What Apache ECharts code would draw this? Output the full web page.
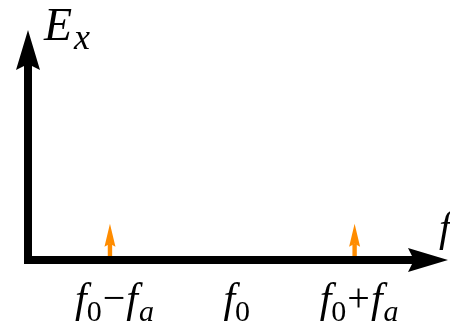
<!DOCTYPE html>
<html>
<head>
<meta charset="utf-8">
<script src="https://cdn.jsdelivr.net/npm/echarts@6/dist/echarts.min.js"></script>
<style>
  html, body { margin: 0; padding: 0; background: #fff; }
  #chart { width: 450px; height: 324px; }
</style>
</head>
<body>
<div id="chart"></div>
<script>
// Spectral lines of an amplitude-modulated field: carrier f0, sidebands f0 ± fa.
// Frequencies in units of fa (carrier at 3).
const sidebandFreqs = [2, 4];
const sidebandAmps = [1, 1];

// Tick positions and their labels on the frequency axis
const tickValues = [2, 3, 4];
const tickLabels = [
  '{i|f}{s|0}{op|−}{i|f}{sa|a}',
  '{i|f}{s|0}',
  '{i|f}{s|0}{op|+}{i|f}{sa|a}'
];

const xRange = [1.33, 4.6];
const yRange = [0, 5.8];

const serif = 'Liberation Serif';
const orange = '#FF8C00';
// Filled arrowhead with a shallow notch, used at the end of both axes
const arrowHead = 'path://M0,0 L12,40 L0,34 L-12,40 Z';

// Subscripts are lowered by padding their top; base-line glyphs get the same extra height below
const SUB_DROP = 13;
const labelRich = {
  i:  { fontFamily: serif, fontStyle: 'italic', fontSize: 42, lineHeight: 44, padding: [0, 0, SUB_DROP, 0], color: '#000' },
  s:  { fontFamily: serif, fontSize: 30, lineHeight: 44, padding: [SUB_DROP, 0, 0, 0], color: '#000' },
  sa: { fontFamily: serif, fontStyle: 'italic', fontSize: 30, lineHeight: 44, padding: [SUB_DROP, 0, 0, 1], color: '#000' },
  op: { fontFamily: serif, fontSize: 40, lineHeight: 44, padding: [0, 1, SUB_DROP, 1], color: '#000' }
};

const chart = echarts.init(document.getElementById('chart'), null, { renderer: 'canvas' });

chart.setOption({
  animation: false,
  backgroundColor: '#fff',
  textStyle: { fontFamily: serif },
  grid: { left: 28, right: 22, top: 50, bottom: 64, containLabel: false, outerBoundsMode: 'none' },
  xAxis: {
    type: 'value',
    min: xRange[0],
    max: xRange[1],
    z: 5,
    name: '{i|f}',
    nameLocation: 'end',
    nameGap: 11,
    nameTextStyle: {
      align: 'left',
      verticalAlign: 'bottom',
      padding: [0, 0, 9, 0],
      rich: { i: { fontFamily: serif, fontStyle: 'italic', fontSize: 42, color: '#000' } }
    },
    axisLine: {
      show: true,
      onZero: false,
      symbol: ['none', arrowHead],
      symbolSize: [24, 40],
      lineStyle: { color: '#000', width: 8 }
    },
    axisTick: { show: false },
    splitLine: { show: false },
    axisLabel: {
      customValues: tickValues,
      margin: 25,
      padding: [0, 0, 0, 9],
      fontFamily: serif,
      formatter: function (v) {
        const k = tickValues.indexOf(v);
        return k >= 0 ? tickLabels[k] : '';
      },
      rich: labelRich
    }
  },
  yAxis: {
    type: 'value',
    min: yRange[0],
    max: yRange[1],
    z: 5,
    name: '{E|E}{x|x}',
    nameLocation: 'end',
    nameGap: 40,
    nameTextStyle: {
      align: 'left',
      verticalAlign: 'top',
      padding: [0, 0, 0, 16],
      rich: {
        E: { fontFamily: serif, fontStyle: 'italic', fontSize: 46, lineHeight: 48, padding: [0, 0, 12, 0], color: '#000' },
        x: { fontFamily: serif, fontStyle: 'italic', fontSize: 36, lineHeight: 48, padding: [12, 0, 0, 2], color: '#000' }
      }
    },
    axisLine: {
      show: true,
      onZero: false,
      symbol: ['none', arrowHead],
      symbolSize: [24, 40],
      lineStyle: { color: '#000', width: 8, cap: 'square' }
    },
    axisTick: { show: false },
    axisLabel: { show: false },
    splitLine: { show: false }
  },
  series: [{
    type: 'custom',
    data: sidebandFreqs.map((f, k) => [f, sidebandAmps[k]]),
    renderItem: function (params, api) {
      const base = api.coord([api.value(0), 0]);
      const tip = api.coord([api.value(0), api.value(1)]);
      const headLen = 23, headHalf = 5.5, shaftHalf = 2.2;
      const neck = tip[1] + headLen - 3;
      return {
        type: 'group',
        children: [
          {
            type: 'rect',
            shape: { x: base[0] - shaftHalf, y: neck, width: shaftHalf * 2, height: base[1] - neck },
            style: { fill: orange }
          },
          {
            type: 'polygon',
            shape: { points: [
              [tip[0], tip[1]],
              [tip[0] + headHalf, tip[1] + headLen],
              [tip[0], neck],
              [tip[0] - headHalf, tip[1] + headLen]
            ] },
            style: { fill: orange }
          }
        ]
      };
    }
  }]
});
</script>
</body>
</html>
